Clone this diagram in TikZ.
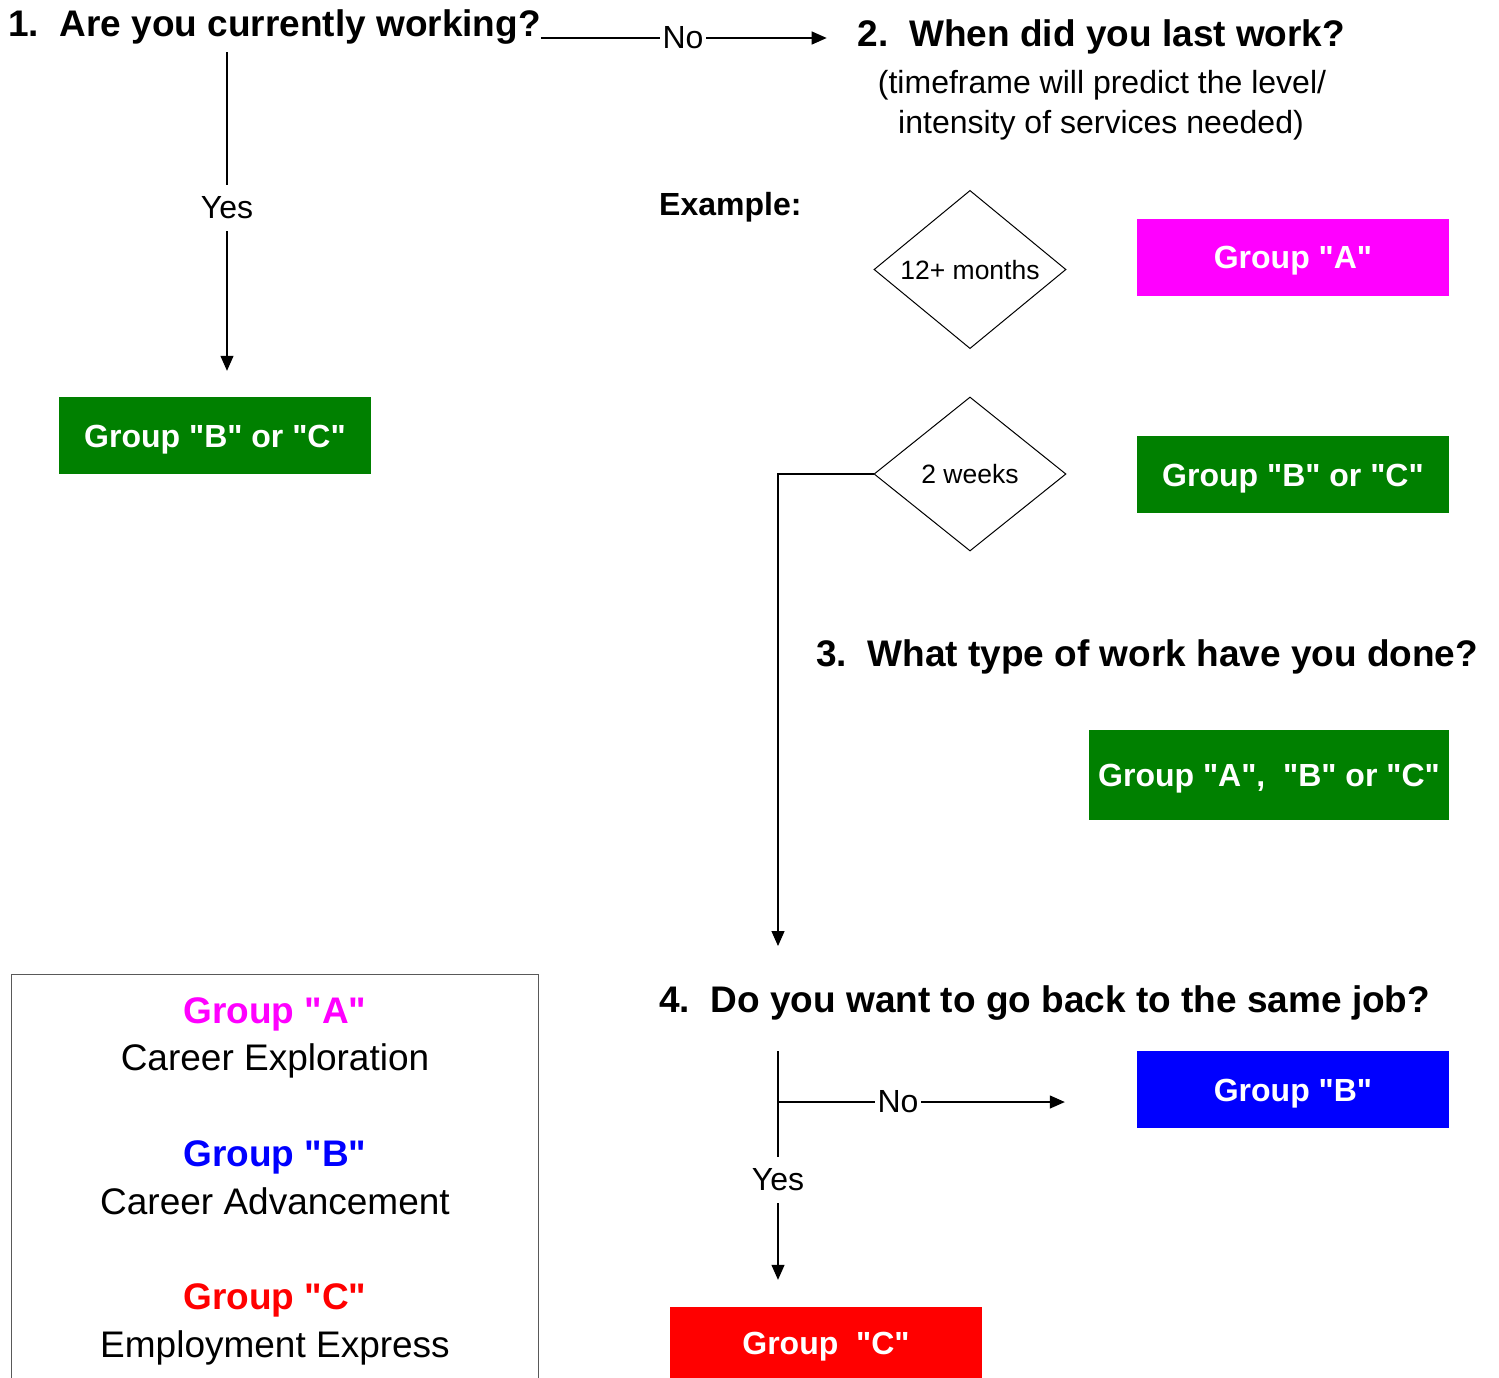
\documentclass[tikz,border=0pt]{standalone}
\usepackage{fontspec}
\setmainfont{Liberation Sans}[Ligatures=TeXOff]
\usetikzlibrary{shapes.geometric, arrows.meta, calc}

\definecolor{grpA}{RGB}{255,0,255}
\definecolor{grpB}{RGB}{0,0,255}
\definecolor{grpC}{RGB}{255,0,0}
\definecolor{grpBC}{RGB}{0,128,0}

\begin{document}
\begin{tikzpicture}[x=1pt, y=-1pt,
  question/.style={font=\fontsize{37}{44}\selectfont\bfseries, inner sep=0pt},
  note/.style={font=\fontsize{32}{40}\selectfont, inner sep=0pt},
  groupbox/.style={font=\fontsize{32}{38}\selectfont\bfseries, text=white,
    minimum width=312pt, minimum height=77pt, text height=23pt, text depth=0pt, inner sep=0pt},
  choice/.style={draw, diamond, line width=1pt, minimum width=192pt, minimum height=154pt,
    inner sep=0pt, text height=19pt, text depth=0pt, font=\fontsize{26.5}{30}\selectfont},
  answer/.style={font=\fontsize{32}{38}\selectfont, text height=23pt, text depth=3pt,
    inner xsep=2.5pt, inner ysep=10pt},
  link/.style={line width=1.2pt},
  arr/.style={link, -{Triangle[length=15pt, width=13pt]}},
  legtitle/.style={font=\fontsize{37}{44}\selectfont\bfseries, anchor=base, inner sep=0pt},
  legtext/.style={font=\fontsize{37}{44}\selectfont, anchor=base, inner sep=0pt},
]
\useasboundingbox (0,0) rectangle (1499,1377);

% --- question 1 ---
\node[question, anchor=base west, inner ysep=8pt] (q1) at (8,36) {1.\ \ Are you currently working?};

% --- question 2 ---
\node[question, anchor=base] (q2) at (1101.5,46) {2.\ \ When did you last work?};
\node[note, anchor=base] (q2a) at (1102,93) {(timeframe will predict the level/};
\node[note, anchor=base] (q2b) at (1101,133) {intensity of services needed)};

\node[font=\fontsize{32}{38}\selectfont\bfseries, anchor=base west, inner sep=0pt] (ex) at (659,215) {Example:};

\node[choice] (d1) at (970,269.5) {12+ months};
\node[choice] (d2) at (970,474) {2 weeks};

% --- result boxes ---
\node[groupbox, fill=grpA] (gA) at (1293,257) {Group "A"};
\node[groupbox, fill=grpBC] (gBC2) at (1293,474.5) {Group "B" or "C"};
\node[groupbox, fill=grpBC] (gBC1) at (215,435.5) {Group "B" or "C"};
\node[groupbox, fill=grpBC, minimum width=360pt, minimum height=90pt] (gABC) at (1269,775) {Group "A",\ \ "B" or "C"};
\node[groupbox, fill=grpB] (gB) at (1293,1089.5) {Group "B"};
\node[groupbox, fill=grpC, minimum height=71pt] (gC) at (826,1342.5) {Group\ \ "C"};

% --- questions 3 and 4 ---
\node[question, anchor=base west] (q3) at (816,666) {3.\ \ What type of work have you done?};
\node[question, anchor=base west] (q4) at (659,1012) {4.\ \ Do you want to go back to the same job?};

% --- connectors of question 1 ---
\node[answer] (no1) at (683,38) {No};
\draw[link] (q1.east |- no1) -- (no1.west);
\draw[arr] (no1.east) -- ($(q2.west |- no1)+(-31,0)$);

\node[answer] (yes1) at (227,208) {Yes};
\draw[link] (q1.south -| yes1) -- (yes1.north);
\draw[arr] (yes1.south) -- ($(gBC1.north -| yes1)+(0,-26)$);

% --- from the short gap down to question 4 ---
\coordinate (q4in) at (778,946);
\draw[arr] (d2.west) -| (q4in);

% --- connectors of question 4 ---
\coordinate (q4out) at (778,1051);
\node[answer] (yes4) at (778,1180) {Yes};
\node[answer] (no4) at (898,1102) {No};
\draw[link] (q4out) -- (yes4.north);
\draw[link] (q4out |- no4) -- (no4.west);
\draw[arr] (no4.east) -- ($(gB.west |- no4)+(-72,0)$);
\draw[arr] (yes4.south) -- ($(gC.north -| yes4)+(0,-27)$);

% --- legend ---
\node[draw=black!65, line width=1.2pt, minimum width=527pt, minimum height=460pt,
  anchor=north west, inner sep=0pt] (legend) at (11,974) {};
\node[legtitle, text=grpA] (lA) at (275,1023) {Group "A"};
\node[legtext] (lAt) at (275,1070.5) {Career Exploration};
\node[legtitle, text=grpB] (lB) at (275,1166) {Group "B"};
\node[legtext] (lBt) at (275,1214) {Career Advancement};
\node[legtitle, text=grpC] (lC) at (275,1309) {Group "C"};
\node[legtext] (lCt) at (275,1357) {Employment Express};
\end{tikzpicture}
\end{document}
